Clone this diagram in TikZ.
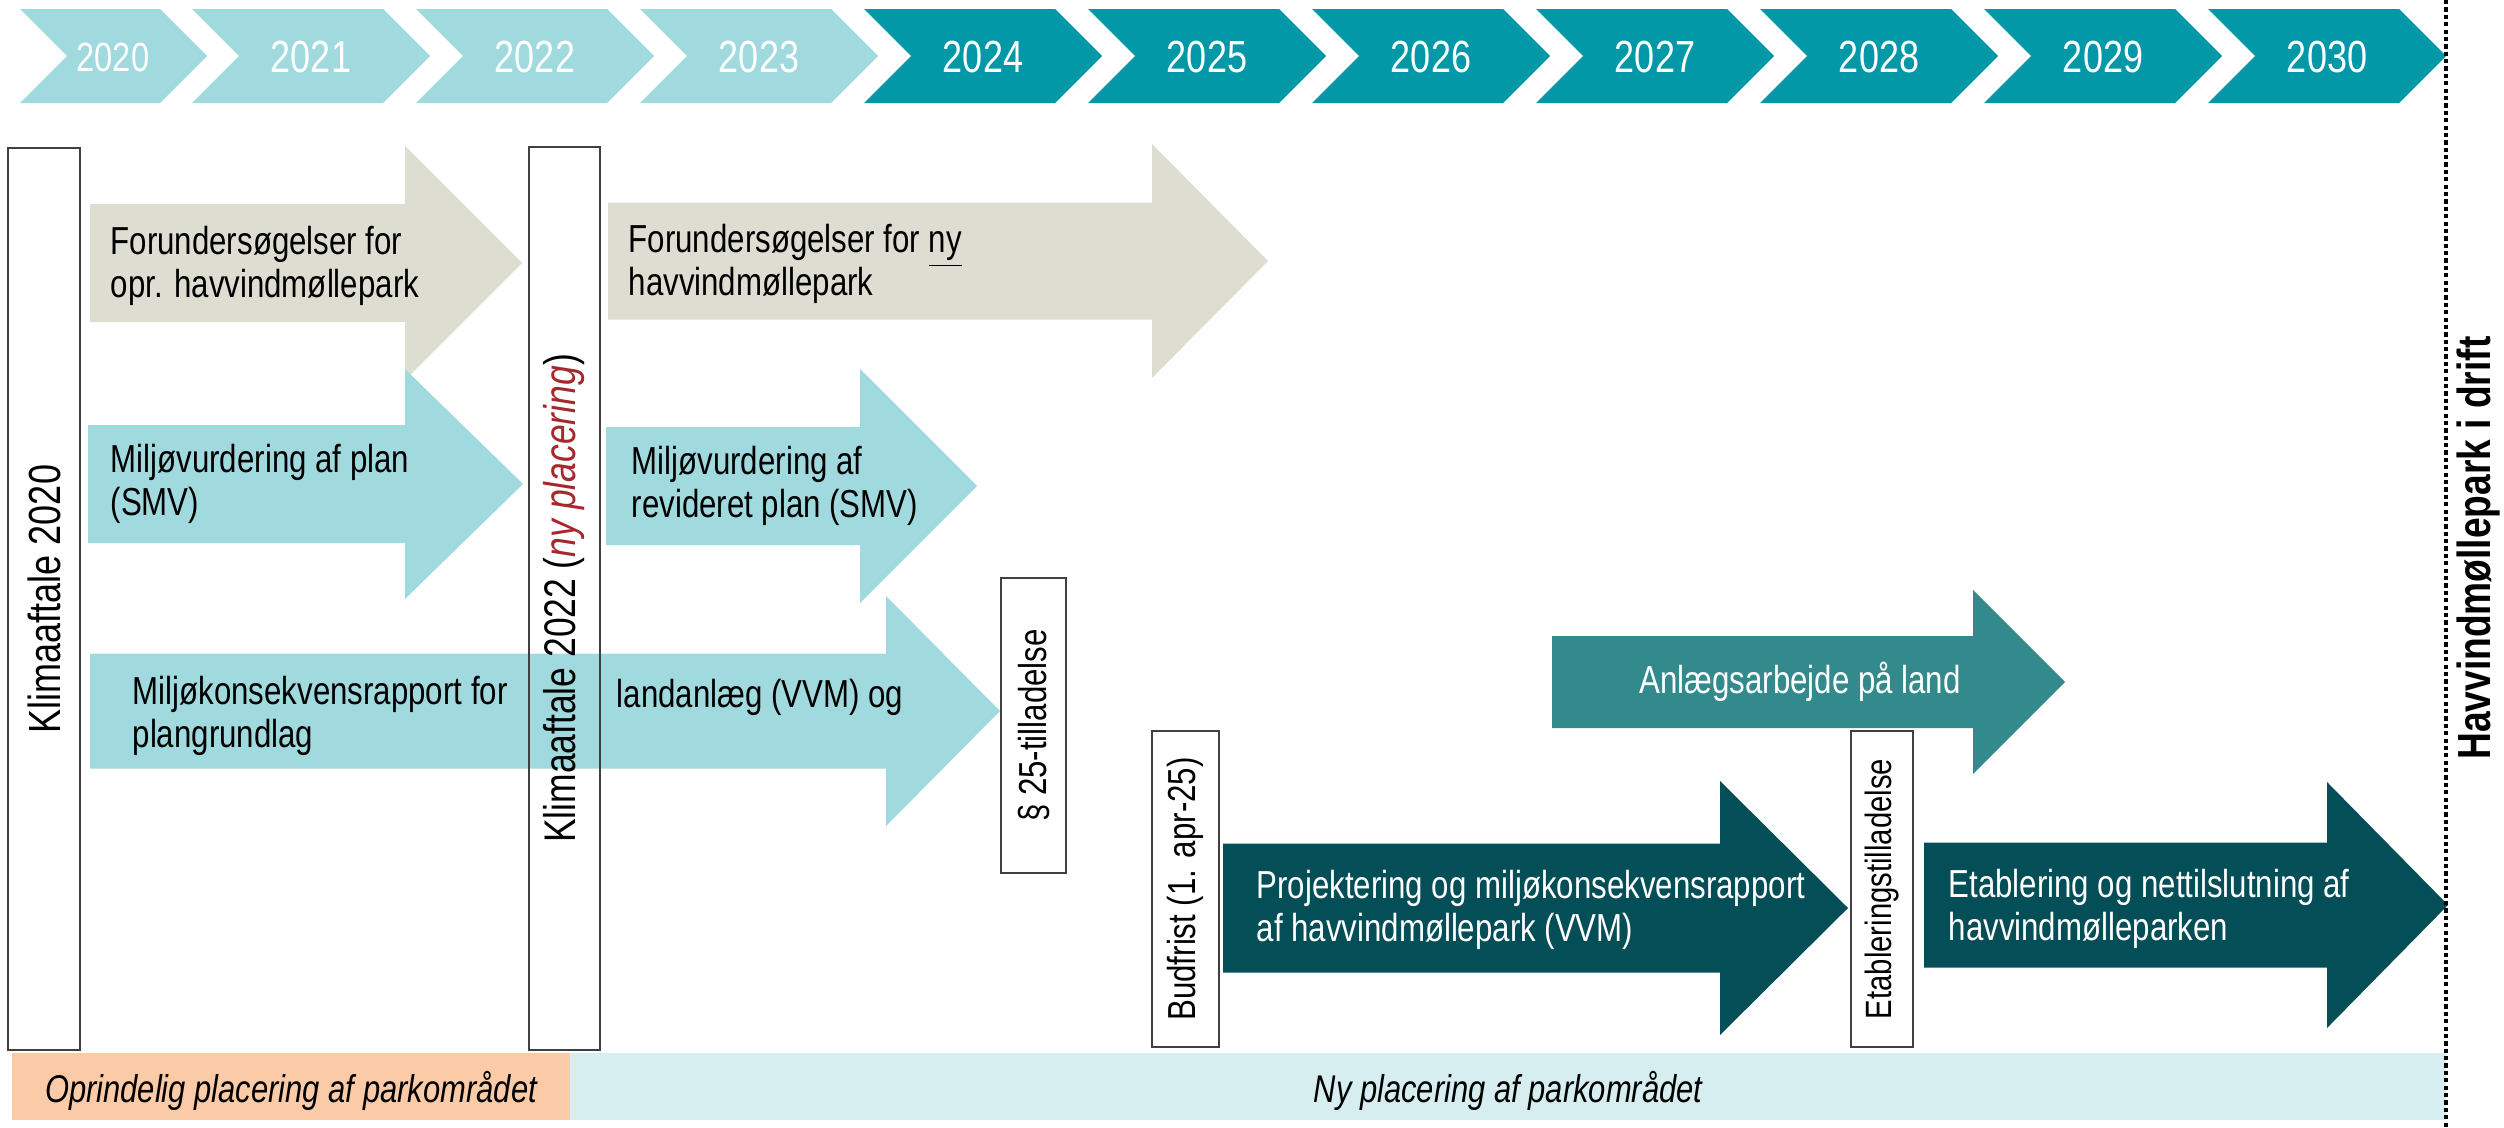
\documentclass[tikz,border=0pt]{standalone}
\usepackage{fontspec}
\setmainfont{Liberation Sans}[FakeStretch=0.8]
\usetikzlibrary{positioning}

\definecolor{lightteal}{HTML}{A0D9DE}
\definecolor{yearteal}{HTML}{0298A7}
\definecolor{greyarrow}{HTML}{DDDDD2}
\definecolor{landteal}{HTML}{338A8C}
\definecolor{darkteal}{HTML}{034E57}
\definecolor{orangebar}{HTML}{FBCBA7}
\definecolor{bluebar}{HTML}{D6EEF0}
\definecolor{nyred}{HTML}{A6282C}

% arrow: colour, left, head start, tip, centre y, half body, half head
\newcommand{\procarrow}[7]{%
  \fill[#1] (#2,#5-#6) -- (#3,#5-#6) -- (#3,#5-#7) -- (#4,#5)
    -- (#3,#5+#7) -- (#3,#5+#6) -- (#2,#5+#6) -- cycle;}

\begin{document}
\begin{tikzpicture}[x=0.01cm, y=-0.01cm]
        \tikzstyle{year} = [text=white, inner sep=0pt, font=\fontsize{12.8}{14}\selectfont]
        \tikzstyle{txt} = [anchor=west, align=left, inner sep=0pt, font=\fontsize{11.1}{12.4}\selectfont]
        \tikzstyle{vbox} = [draw=black!75, line width=0.45pt, rotate=90, inner sep=0pt, font=\fontsize{11.1}{13}\selectfont]
        \tikzstyle{dotline} = [line width=1pt, dash pattern=on 1.2pt off 0.9pt]
        \useasboundingbox (0,0) rectangle (2504,1127);

        % years
        \fill[lightteal] (20,9) -- (160,9) -- (207,56) -- (160,103) -- (20,103) -- (67,56) -- cycle;
        \node[year, font=\fontsize{11.6}{13}\selectfont] (y2020) at (113,57) {2020};
        \foreach \i in {1,...,10}{
          \pgfmathsetmacro\L{192+224*(\i-1)}
          \pgfmathtruncatemacro\yr{2020+\i}
          \ifnum\i<4 \def\col{lightteal}\else\def\col{yearteal}\fi
          \fill[fill=\col] (\L,9) -- (\L+191,9) -- (\L+238,56) -- (\L+191,103) -- (\L,103) -- (\L+47,56) -- cycle;
          \node[year] (y\yr) at (\L+119,57) {\yr};
        }

        % process arrows
        \procarrow{greyarrow}{90}{405}{522}{263}{59}{117}
        \procarrow{lightteal}{88}{405}{523}{484}{59}{115}
        \procarrow{lightteal}{90}{886}{1000}{711}{57.5}{115}
        \procarrow{greyarrow}{608}{1152}{1268}{261}{58.5}{117}
        \procarrow{lightteal}{606}{860}{977}{486}{59}{117}
        \procarrow{landteal}{1552}{1973}{2065}{682}{46}{92}
        \procarrow{darkteal}{1223}{1720}{1848}{908}{64.5}{127}
        \procarrow{darkteal}{1924}{2327}{2448}{905}{62.5}{123}

        \node[txt] (forund1) at (110,266) {Forundersøgelser for\\opr. havvindmøllepark};
        \node[txt] (smv1) at (110,484) {Miljøvurdering af plan\\(SMV)};
        \node[txt] (mkr1) at (132,716) {Miljøkonsekvensrapport for\\plangrundlag};
        \node[txt] (mkr2) at (616,697) {landanlæg (VVM) og};
        \node[txt] (forund2) at (628,264) {Forundersøgelser for \underline{ny}\\havvindmøllepark};
        \node[txt] (smv2) at (631,486) {Miljøvurdering af\\revideret plan (SMV)};
        \node[txt, anchor=center, text=white] (land) at (1800,682) {Anlægsarbejde på land};
        \node[txt, text=white] (proj) at (1256,910) {Projektering og miljøkonsekvensrapport\\af havvindmøllepark (VVM)};
        \node[txt, text=white] (etab) at (1948,909) {Etablering og nettilslutning af\\havvindmølleparken};

        % milestones
        \node[vbox, minimum width=9.02cm, minimum height=0.72cm, font=\fontsize{12.8}{14}\selectfont] (ka2020) at (44,599) {Klimaaftale 2020};
        \node[vbox, minimum width=9.03cm, minimum height=0.71cm, font=\fontsize{12.6}{14}\selectfont] (ka2022) at (564.5,598.5) {Klimaaftale 2022 (\textcolor{nyred}{\itshape ny placering})};
        \node[vbox, minimum width=2.95cm, minimum height=0.65cm] (p25) at (1033.5,725.5) {§ 25-tilladelse};
        \node[vbox, minimum width=3.16cm, minimum height=0.67cm] (bud) at (1185.5,889) {Budfrist (1. apr-25)};
        \node[vbox, minimum width=3.16cm, minimum height=0.62cm, font=\fontsize{10.4}{12}\selectfont] (etabt) at (1882,889) {Etableringstilladelse};

        % park areas
        \fill[orangebar] (12,1053) rectangle (570,1120);
        \fill[bluebar] (570,1053) rectangle (2446,1120);
        \node[txt, anchor=center, font=\itshape\fontsize{11}{13}\selectfont] (opr) at (291,1091) {Oprindelig placering af parkområdet};
        \node[txt, anchor=center, font=\itshape\fontsize{11}{13}\selectfont] (ny) at (1508,1091) {Ny placering af parkområdet};

        % in operation
        \coordinate (dtop) at (2446,0);
        \coordinate (dbot) at (2446,1127);
        \draw[dotline] (dtop) -- (dbot);
        \node[rotate=90, inner sep=0pt, font=\bfseries\fontsize{13.2}{15}\selectfont] (drift) at (2478,548) {Havvindmøllepark i drift};
    \end{tikzpicture}
\end{document}
